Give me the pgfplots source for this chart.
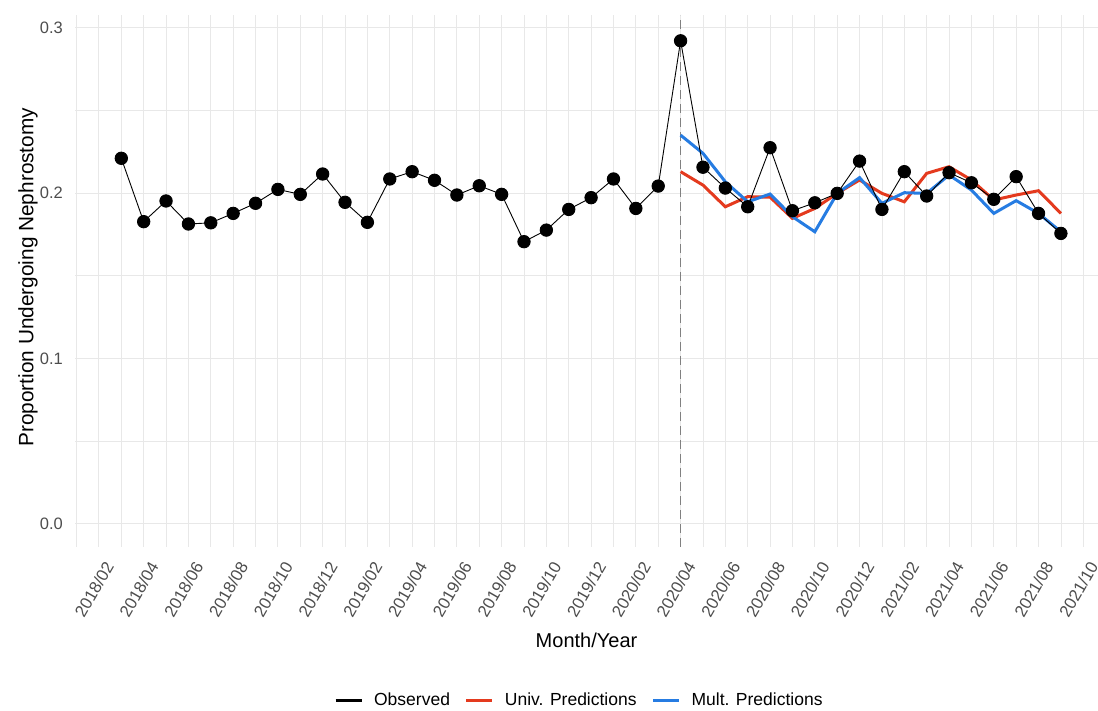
\documentclass[border=0pt]{standalone}
\usepackage{fontspec}
\setmainfont{Liberation Sans}
\usepackage{pgfplots}
\pgfplotsset{compat=1.18}
\definecolor{univred}{RGB}{228,58,30}
\definecolor{multblue}{RGB}{38,124,226}
\definecolor{gridc}{RGB}{232,232,232}
\definecolor{ticktext}{RGB}{77,77,77}
\begin{document}
\begin{tikzpicture}[x=1bp,y=1bp]
\path[use as bounding box] (0,0) rectangle (1098,711);
\begin{axis}[
  at={(75bp,164bp)}, anchor=south west,
  scale only axis, width=1023bp, height=532bp,
  xmin=-1.07, xmax=44.66, ymin=-0.0139, ymax=0.3076,
  axis line style={draw=none},
  major tick length=0pt, minor tick length=0pt,
  tick style={draw=none},
  grid=both,
  major grid style={gridc, line width=1bp},
  minor grid style={gridc, line width=0.8bp},
  ytick={0,0.1,0.2,0.3}, yticklabels={0.0,0.1,0.2,0.3},
  minor ytick={0.05,0.15,0.25},
  xtick={0,2,...,44},
  minor xtick={-1,1,...,43},
  xticklabels={2018/02,2018/04,2018/06,2018/08,2018/10,2018/12,2019/02,2019/04,2019/06,2019/08,2019/10,2019/12,2020/02,2020/04,2020/06,2020/08,2020/10,2020/12,2021/02,2021/04,2021/06,2021/08,2021/10},
  /pgf/number format/assume math mode=true,
  xticklabel style={xshift=11bp, yshift=-15bp, rotate=60, anchor=east, font=\fontsize{16.8bp}{17bp}\selectfont, text=ticktext, inner sep=1bp},
  yticklabel style={font=\fontsize{16.5bp}{17bp}\selectfont, text=ticktext, inner sep=0pt, xshift=-12bp},
  xlabel={Month/Year},
  ylabel={Proportion Undergoing Nephrostomy},
  xlabel style={at={(axis description cs:0.5,-0.175)}, anchor=center, font=\fontsize{20bp}{21bp}\selectfont},
  ylabel style={at={(axis description cs:-0.046,0.507)}, anchor=center, font=\fontsize{20.8bp}{21bp}\selectfont},
  legend columns=3,
  legend style={at={(axis description cs:0.493,-0.2876)}, anchor=center, draw=none, fill=none,
    font=\fontsize{17.5bp}{18bp}\selectfont,
    /tikz/every odd column/.append style={column sep=9bp},
    /tikz/every even column/.append style={column sep=13bp}},
  legend image code/.code={\draw[#1] (0bp,0bp) -- (26bp,0bp);},
]
\addlegendimage{black, line width=3bp}
\addlegendentry{Observed}
\addlegendimage{univred, line width=3bp}
\addlegendentry{Univ. Predictions}
\addlegendimage{multblue, line width=3bp}
\addlegendentry{Mult. Predictions}

\addplot[forget plot, gray, line width=1.1bp, dash pattern=on 9bp off 5bp] coordinates {(26,-0.0139) (26,0.3076)};

\addplot[forget plot, univred, line width=3bp, no marks] table {
x y
26 0.2129
27 0.2048
28 0.1917
29 0.1978
30 0.1975
31 0.1847
32 0.1907
33 0.1998
34 0.2079
35 0.1998
36 0.1947
37 0.2119
38 0.2159
39 0.2079
40 0.1958
41 0.1988
42 0.2014
43 0.1877
};
\addplot[forget plot, multblue, line width=3bp, no marks] table {
x y
26 0.2350
27 0.2240
28 0.2068
29 0.1947
30 0.1994
31 0.1857
32 0.1766
33 0.1998
34 0.2093
35 0.1938
36 0.2002
37 0.1998
38 0.2109
39 0.2018
40 0.1877
41 0.1954
42 0.1877
43 0.1766
};
\addplot[forget plot, black, line width=0.9bp, mark=*, mark size=6.2bp, mark options={fill=black}] table {
x y
1 0.2210
2 0.1827
3 0.1952
4 0.1813
5 0.1820
6 0.1877
7 0.1938
8 0.2022
9 0.1992
10 0.2115
11 0.1944
12 0.1823
13 0.2085
14 0.2129
15 0.2077
16 0.1988
17 0.2044
18 0.1992
19 0.1706
20 0.1776
21 0.1901
22 0.1972
23 0.2085
24 0.1907
25 0.2042
26 0.2920
27 0.2156
28 0.2030
29 0.1917
30 0.2274
31 0.1893
32 0.1941
33 0.1998
34 0.2193
35 0.1901
36 0.2129
37 0.1982
38 0.2123
39 0.2062
40 0.1962
41 0.2099
42 0.1877
43 0.1756
};
\end{axis}
\end{tikzpicture}
\end{document}
